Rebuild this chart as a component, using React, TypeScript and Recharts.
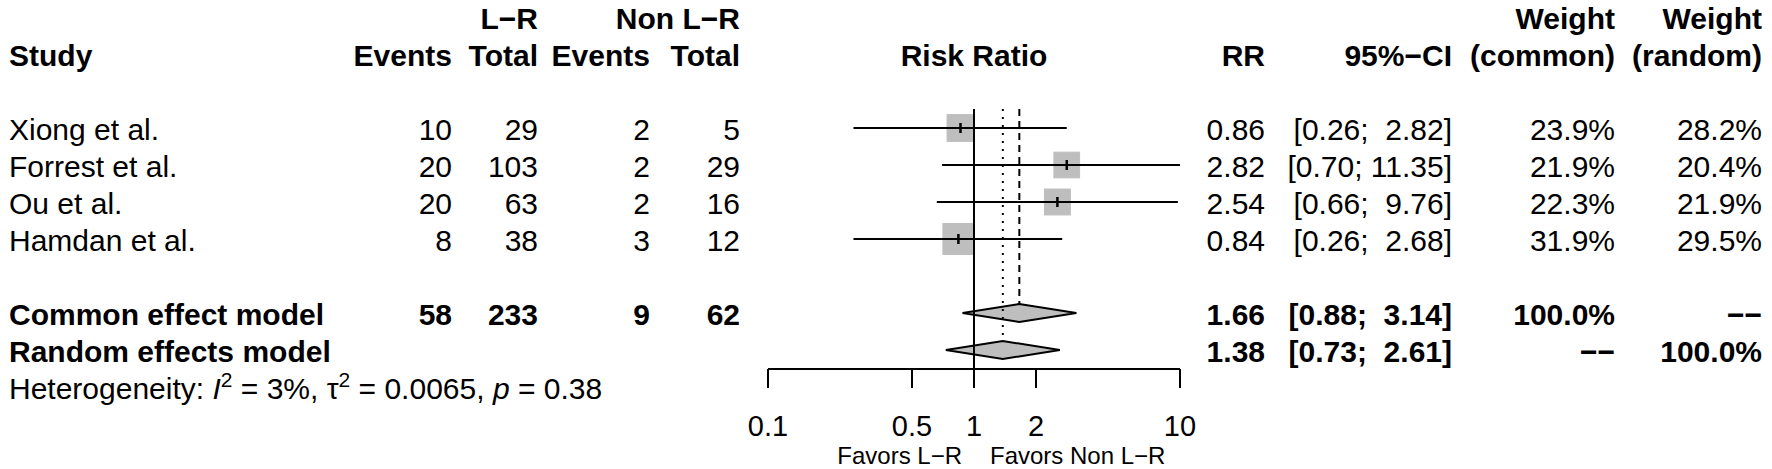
import React from 'react';
import { ComposedChart, XAxis, YAxis, Scatter } from 'recharts';

// ---------- data ----------
const studies = ['Xiong et al.', 'Forrest et al.', 'Ou et al.', 'Hamdan et al.'];
const lrEvents = [10, 20, 20, 8];
const lrTotal = [29, 103, 63, 38];
const nonEvents = [2, 2, 2, 3];
const nonTotal = [5, 29, 16, 12];
const rr = [0.86, 2.82, 2.54, 0.84];
const ciLow = [0.26, 0.7, 0.66, 0.26];
const ciHigh = [2.82, 11.35, 9.76, 2.68];
const wCommon = [23.9, 21.9, 22.3, 31.9];
const wRandom = [28.2, 20.4, 21.9, 29.5];

const modelLabels = ['Common effect model', 'Random effects model'];
const modelRR = [1.66, 1.38];
const modelLow = [0.88, 0.73];
const modelHigh = [3.14, 2.61];
const modelWCommon = ['100.0%', '\u2212\u2212'];
const modelWRandom = ['\u2212\u2212', '100.0%'];
const pooledCounts = [58, 233, 9, 62];

const xTicks = [0.1, 0.5, 1, 2, 10];
const xDomain = [0.1, 10];
const hetI2 = '3%';
const hetTau2 = '0.0065';
const hetP = '0.38';

// ---------- layout ----------
const W = 1772;
const H = 469;
const FONT = '"Liberation Sans", Arial, Helvetica, sans-serif';
const FS = 30;
const ROW0 = 128;
const ROWH = 37;
const AXIS_Y = 369;
const PLOT_L = 768;
const PLOT_R = 1180;
const BASE_OFF = 12;
const BOX_SCALE = 31 / Math.sqrt(31.9);
const DIAMOND_HALF = 9;
const TOP_ROW = -0.514;
const AXIS_ROW = (AXIS_Y - ROW0) / ROWH;
const Y_DOMAIN = [-ROW0 / ROWH, AXIS_ROW];

const COL = {
  study: 9,
  lrE: 452,
  lrT: 538,
  nE: 650,
  nT: 740,
  rr: 1265,
  ci: 1452,
  wc: 1615,
  wr: 1762,
};
const MID = (PLOT_L + PLOT_R) / 2;

const rowY = (i: number) => ROW0 + ROWH * i;
const base = (i: number) => rowY(i) + BASE_OFF;
const fmtCI = (l: number, h: number) => `[${l.toFixed(2)}; ${h.toFixed(2).padStart(5, ' ')}]`;

const MODEL_ROW0 = studies.length + 1;
const HET_ROW = MODEL_ROW0 + modelLabels.length;

// ---------- tables for the library ----------
const boxData = studies.map((_, k) => ({ x: rr[k], y: k, w: wCommon[k] }));
const ciData = studies.flatMap((_, k) => [
  { x: ciLow[k], y: k },
  { x: ciHigh[k], y: k },
]);
const diamondData = modelLabels.flatMap((_, k) => [
  { x: modelLow[k], y: MODEL_ROW0 + k },
  { x: modelRR[k], y: MODEL_ROW0 + k },
  { x: modelHigh[k], y: MODEL_ROW0 + k },
]);
const solidData = [
  { x: 1, y: TOP_ROW },
  { x: 1, y: AXIS_ROW },
];
const dashedData = [
  { x: modelRR[0], y: TOP_ROW },
  { x: modelRR[0], y: MODEL_ROW0 - DIAMOND_HALF / ROWH },
];
const dottedData = [
  { x: modelRR[1], y: TOP_ROW },
  { x: modelRR[1], y: MODEL_ROW0 + 1 - DIAMOND_HALF / ROWH },
];

// ---------- renderers ----------
const noShape = () => <g />;

const segmentLine = (width: number, dash?: string) => (props: any) => {
  const pts = props.points || [];
  let d = '';
  for (let j = 0; j + 1 < pts.length; j += 2) {
    d += `M${pts[j].x},${pts[j].y}L${pts[j + 1].x},${pts[j + 1].y}`;
  }
  return <path d={d} stroke="#000" strokeWidth={width} strokeDasharray={dash} fill="none" />;
};

const diamondLine = (props: any) => {
  const pts = props.points || [];
  const out: any[] = [];
  for (let j = 0; j + 2 < pts.length; j += 3) {
    const l = pts[j];
    const m = pts[j + 1];
    const r = pts[j + 2];
    const d = `M${l.x},${l.y}L${m.x},${m.y - DIAMOND_HALF}L${r.x},${r.y}L${m.x},${m.y + DIAMOND_HALF}Z`;
    out.push(<path key={j} d={d} fill="#bebebe" stroke="#000" strokeWidth={2} strokeLinejoin="miter" />);
  }
  return <g>{out}</g>;
};

const BoxShape = (props: any) => {
  const { cx, cy, payload } = props;
  const s = BOX_SCALE * Math.sqrt(payload.w);
  return <rect x={cx - s / 2} y={cy - s / 2} width={s} height={s} fill="#bebebe" stroke="#bebebe" strokeWidth={1} />;
};

const TickShape = (props: any) => {
  const { cx, cy } = props;
  return <line x1={cx} x2={cx} y1={cy - 5} y2={cy + 5} stroke="#000" strokeWidth={2.5} />;
};

type TP = { x: number; y: number; a?: 'start' | 'middle' | 'end'; b?: boolean; size?: number; children: any };
const T = ({ x, y, a = 'end', b = false, size = FS, children }: TP) => (
  <text
    x={x}
    y={y}
    textAnchor={a}
    fontSize={size}
    fontWeight={b ? 'bold' : 'normal'}
    fontFamily={FONT}
    fill="#000"
    xmlSpace="preserve"
    style={{ whiteSpace: 'pre' }}
  >
    {children}
  </text>
);

const TableText = () => {
  const h1 = base(-3);
  const h2 = base(-2);
  return (
    <svg width={W} height={H} style={{ position: 'absolute', left: 0, top: 0, pointerEvents: 'none' }}>
      {/* headers */}
      <T x={COL.lrT} y={h1} b>L−R</T>
      <T x={COL.nT} y={h1} b>Non L−R</T>
      <T x={COL.wc} y={h1} b>Weight</T>
      <T x={COL.wr} y={h1} b>Weight</T>
      <T x={COL.study} y={h2} a="start" b>Study</T>
      <T x={COL.lrE} y={h2} b>Events</T>
      <T x={COL.lrT} y={h2} b>Total</T>
      <T x={COL.nE} y={h2} b>Events</T>
      <T x={COL.nT} y={h2} b>Total</T>
      <T x={MID} y={h2} a="middle" b>Risk Ratio</T>
      <T x={COL.rr} y={h2} b>RR</T>
      <T x={COL.ci} y={h2} b>95%−CI</T>
      <T x={COL.wc} y={h2} b>(common)</T>
      <T x={COL.wr} y={h2} b>(random)</T>

      {/* studies */}
      {studies.map((s, k) => {
        const y = base(k);
        return (
          <g key={s}>
            <T x={COL.study} y={y} a="start">{s}</T>
            <T x={COL.lrE} y={y}>{String(lrEvents[k])}</T>
            <T x={COL.lrT} y={y}>{String(lrTotal[k])}</T>
            <T x={COL.nE} y={y}>{String(nonEvents[k])}</T>
            <T x={COL.nT} y={y}>{String(nonTotal[k])}</T>
            <T x={COL.rr} y={y}>{rr[k].toFixed(2)}</T>
            <T x={COL.ci} y={y}>{fmtCI(ciLow[k], ciHigh[k])}</T>
            <T x={COL.wc} y={y}>{`${wCommon[k].toFixed(1)}%`}</T>
            <T x={COL.wr} y={y}>{`${wRandom[k].toFixed(1)}%`}</T>
          </g>
        );
      })}

      {/* models */}
      {modelLabels.map((m, k) => {
        const y = base(MODEL_ROW0 + k);
        return (
          <g key={m}>
            <T x={COL.study} y={y} a="start" b>{m}</T>
            {k === 0 && (
              <>
                <T x={COL.lrE} y={y} b>{String(pooledCounts[0])}</T>
                <T x={COL.lrT} y={y} b>{String(pooledCounts[1])}</T>
                <T x={COL.nE} y={y} b>{String(pooledCounts[2])}</T>
                <T x={COL.nT} y={y} b>{String(pooledCounts[3])}</T>
              </>
            )}
            <T x={COL.rr} y={y} b>{modelRR[k].toFixed(2)}</T>
            <T x={COL.ci} y={y} b>{fmtCI(modelLow[k], modelHigh[k])}</T>
            <T x={COL.wc} y={y} b>{modelWCommon[k]}</T>
            <T x={COL.wr} y={y} b>{modelWRandom[k]}</T>
          </g>
        );
      })}

      {/* heterogeneity */}
      <text x={COL.study} y={base(HET_ROW)} fontSize={FS} fontFamily={FONT} fill="#000" xmlSpace="preserve" style={{ whiteSpace: 'pre' }}>
        {'Heterogeneity: '}
        <tspan fontStyle="italic">I</tspan>
        <tspan dy={-12} fontSize={21}>2</tspan>
        <tspan dy={12}>{` = ${hetI2}, \u03c4`}</tspan>
        <tspan dy={-12} fontSize={21}>2</tspan>
        <tspan dy={12}>{` = ${hetTau2}, `}</tspan>
        <tspan fontStyle="italic">p</tspan>
        <tspan>{` = ${hetP}`}</tspan>
      </text>

      {/* favours labels */}
      <T x={MID - 12} y={464} a="end" size={24}>Favors L−R</T>
      <T x={MID + 16} y={464} a="start" size={24}>Favors Non L−R</T>
    </svg>
  );
};

export default function App() {
  return (
    <div style={{ position: 'absolute', left: 0, top: 0, width: W, height: H, background: '#fff' }}>
      <ComposedChart
        width={W}
        height={H}
        margin={{ top: 0, right: W - PLOT_R, bottom: 0, left: PLOT_L }}
      >
        <XAxis
          type="number"
          dataKey="x"
          scale="log"
          domain={xDomain}
          allowDataOverflow
          ticks={xTicks}
          interval={0}
          height={H - AXIS_Y}
          tickSize={19}
          tickMargin={27}
          axisLine={{ stroke: '#000', strokeWidth: 2 }}
          tickLine={{ stroke: '#000', strokeWidth: 2 }}
          tick={{ fill: '#000', fontSize: 29, fontFamily: FONT }}
          tickFormatter={(v: number) => String(v)}
        />
        <YAxis type="number" dataKey="y" domain={Y_DOMAIN} allowDataOverflow reversed hide width={0} />
        <Scatter data={boxData} shape={BoxShape} isAnimationActive={false} />
        <Scatter data={ciData} shape={noShape} line={segmentLine(2)} isAnimationActive={false} />
        <Scatter data={boxData} shape={TickShape} isAnimationActive={false} />
        <Scatter data={diamondData} shape={noShape} line={diamondLine} isAnimationActive={false} />
        <Scatter data={solidData} shape={noShape} line={segmentLine(2)} isAnimationActive={false} />
        <Scatter data={dashedData} shape={noShape} line={segmentLine(2, '7 5')} isAnimationActive={false} />
        <Scatter data={dottedData} shape={noShape} line={segmentLine(2, '2 6')} isAnimationActive={false} />
      </ComposedChart>
      <TableText />
    </div>
  );
}
